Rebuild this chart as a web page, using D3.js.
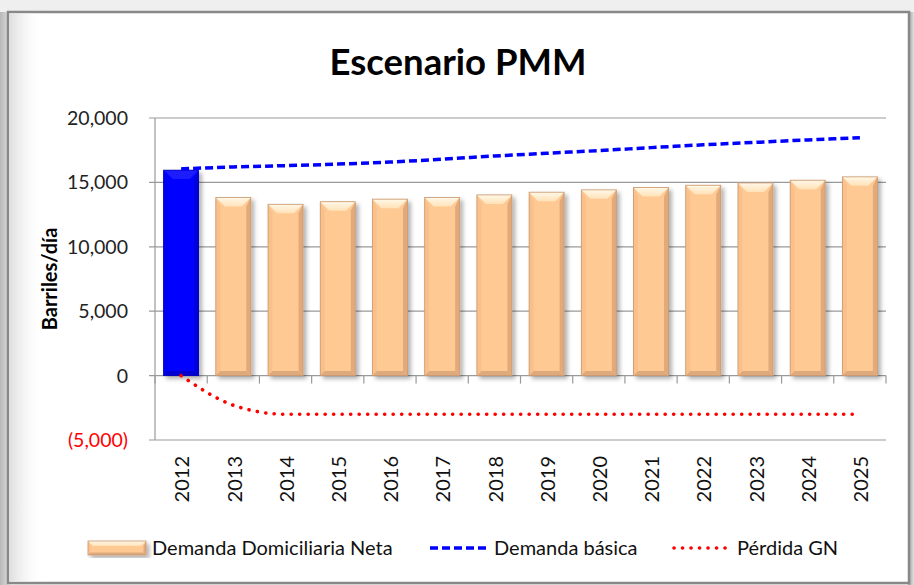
<!DOCTYPE html>
<html>
<head>
<meta charset="utf-8">
<script src="https://cdn.jsdelivr.net/npm/d3@7"></script>
<style>
  body { margin: 0; background: #f2f2f2; }
  svg { display: block; }
  text { font-family: Lato, "Open Sans", sans-serif; }
</style>
</head>
<body>
<svg id="chart" width="914" height="585"></svg>
<script>
// data
const years = ["2012", "2013", "2014", "2015", "2016", "2017", "2018",
               "2019", "2020", "2021", "2022", "2023", "2024", "2025"];
const demandaNeta = [15950, 13820, 13300, 13500, 13700, 13820, 14030,
                     14240, 14420, 14600, 14780, 14960, 15170, 15430];
const demandaBasica = [16050, 16200, 16300, 16420, 16580, 16800, 17050,
                       17260, 17470, 17700, 17920, 18110, 18300, 18470];
const perdidaGN = [0, -2300, -3000, -3000, -3000, -3000, -3000,
                   -3000, -3000, -3000, -3000, -3000, -3000, -3000];
const yTicks = [-5000, 0, 5000, 10000, 15000, 20000];
const legendLabels = ["Demanda Domiciliaria Neta", "Demanda básica", "Pérdida GN"];

const svg = d3.select("#chart");
const W = 914, H = 585;
const plot = { left: 155, right: 886, top: 118, bottom: 440 };

const defs = svg.append("defs");

// background glow and frame
const bgGrad = defs.append("linearGradient").attr("id", "bgLeft")
  .attr("x1", 0).attr("x2", 1).attr("y1", 0).attr("y2", 0);
bgGrad.append("stop").attr("offset", 0).attr("stop-color", "#b8b8b8");
bgGrad.append("stop").attr("offset", 1).attr("stop-color", "#dcdcdc");

const innerGrad = defs.append("linearGradient").attr("id", "innerLeft")
  .attr("x1", 0).attr("x2", 1).attr("y1", 0).attr("y2", 0);
innerGrad.append("stop").attr("offset", 0).attr("stop-color", "#dedede");
innerGrad.append("stop").attr("offset", 1).attr("stop-color", "#ffffff").attr("stop-opacity", 0);

const rightGrad = defs.append("linearGradient").attr("id", "bgRight")
  .attr("x1", 0).attr("x2", 1).attr("y1", 0).attr("y2", 0);
rightGrad.append("stop").attr("offset", 0).attr("stop-color", "#9a9a9a");
rightGrad.append("stop").attr("offset", 1).attr("stop-color", "#e0e0e0");

// light top bevel of the bars
const topGrad = defs.append("linearGradient").attr("id", "topBevel")
  .attr("x1", 0).attr("x2", 0).attr("y1", 0).attr("y2", 1);
topGrad.append("stop").attr("offset", 0).attr("stop-color", "#fff8e8");
topGrad.append("stop").attr("offset", 1).attr("stop-color", "#ffe2b8");

const shadow = defs.append("filter").attr("id", "barShadow")
  .attr("x", "-20%").attr("y", "-10%").attr("width", "150%").attr("height", "130%");
shadow.append("feDropShadow").attr("dx", 3).attr("dy", 3)
  .attr("stdDeviation", 2).attr("flood-color", "#000").attr("flood-opacity", 0.3);

svg.append("rect").attr("width", W).attr("height", H).attr("fill", "#efefef");
svg.append("rect").attr("x", 0).attr("y", 12).attr("width", 9).attr("height", H - 12)
  .attr("fill", "url(#bgLeft)");
svg.append("rect").attr("x", 908).attr("y", 12).attr("width", 6).attr("height", H - 12)
  .attr("fill", "url(#bgRight)");
svg.append("rect").attr("x", 8).attr("y", 12).attr("width", 901).attr("height", 571)
  .attr("fill", "#fff").attr("stroke", "#888").attr("stroke-width", 2.5);
svg.append("rect").attr("x", 9.5).attr("y", 13.5).attr("width", 34).attr("height", 568)
  .attr("fill", "url(#innerLeft)");

// scales
const x = d3.scaleBand().domain(years).range([plot.left, plot.right])
  .paddingInner(0.33).paddingOuter(0.165);
const y = d3.scaleLinear().domain([-5000, 20000]).range([plot.bottom, plot.top]);

// gridlines
svg.append("g").selectAll("line").data(yTicks).join("line")
  .attr("x1", plot.left - 6).attr("x2", plot.right)
  .attr("y1", d => y(d)).attr("y2", d => y(d))
  .attr("stroke", "#9a9a9a").attr("stroke-width", 1.2);

// y axis line
svg.append("line").attr("x1", plot.left).attr("x2", plot.left)
  .attr("y1", plot.top).attr("y2", plot.bottom)
  .attr("stroke", "#9a9a9a").attr("stroke-width", 1.2);

// category ticks on the zero line
const tickPos = d3.range(years.length + 1).map(i => plot.left + i * (plot.right - plot.left) / years.length);
svg.append("g").selectAll("line").data(tickPos).join("line")
  .attr("x1", d => d).attr("x2", d => d)
  .attr("y1", y(0)).attr("y2", y(0) + 8)
  .attr("stroke", "#9a9a9a").attr("stroke-width", 1.2);

// y tick labels
const fmt = d3.format(",");
svg.append("g").selectAll("text").data(yTicks).join("text")
  .attr("x", 128).attr("y", d => y(d)).attr("dy", "0.36em")
  .attr("text-anchor", "end").attr("font-size", 19.5)
  .attr("fill", d => d < 0 ? "#ff0000" : "#222")
  .text(d => d < 0 ? "(" + fmt(-d) + ")" : fmt(d));

// x labels (rotated)
svg.append("g").selectAll("text").data(years).join("text")
  .attr("transform", d => `translate(${x(d) + x.bandwidth() / 2 + 1},456) rotate(-90)`)
  .attr("dy", "0.36em").attr("text-anchor", "end")
  .attr("font-size", 20).attr("fill", "#111")
  .text(d => d);

// bevelled bar
function bevelBar(g, x0, y0, w, h, pal, b) {
  b = Math.min(b, h / 2);
  g.append("rect").attr("x", x0).attr("y", y0).attr("width", w).attr("height", h)
    .attr("fill", pal.main);
  g.append("path").attr("d", `M${x0},${y0}l${b * 0.5},${b}v${h - 1.5 * b}l${-b * 0.5},${b * 0.5}z`).attr("fill", pal.left);
  g.append("path").attr("d", `M${x0 + w},${y0}l${-b * 0.5},${b}v${h - 1.5 * b}l${b * 0.5},${b * 0.5}z`).attr("fill", pal.right);
  g.append("path").attr("d", `M${x0},${y0 + h}h${w}l${-b * 0.5},${-b * 0.5}h${-(w - b)}z`).attr("fill", pal.bottom);
  g.append("path").attr("d", `M${x0},${y0}h${w}l${-b},${b}h${-(w - 2 * b)}z`).attr("fill", pal.top);
  g.append("rect").attr("x", x0).attr("y", y0).attr("width", w).attr("height", h)
    .attr("fill", "none").attr("stroke", pal.edge).attr("stroke-width", 0.8);
}
const orange = { main: "#ffc994", top: "url(#topBevel)", left: "#f9c08c", right: "#e2aa7a", bottom: "#deaa7c", edge: "#c7976e" };
const blue = { main: "#0000ff", top: "#1a1aff", left: "#0000f4", right: "#0000dd", bottom: "#0000d0", edge: "#0000b8" };

const bars = svg.append("g").attr("filter", "url(#barShadow)");
years.forEach((yr, i) => {
  const g = bars.append("g");
  bevelBar(g, x(yr), y(demandaNeta[i]), x.bandwidth(), y(0) - y(demandaNeta[i]), i === 0 ? blue : orange, 9);
});

// lines
const cx = d => x(d) + x.bandwidth() / 2;
const line = d3.line().x((d, i) => cx(years[i])).y(d => y(d)).curve(d3.curveMonotoneX);
svg.append("path").datum(demandaBasica).attr("d", line)
  .attr("fill", "none").attr("stroke", "#0000ff").attr("stroke-width", 3.5)
  .attr("stroke-dasharray", "8,4");
svg.append("path").datum(perdidaGN).attr("d", line)
  .attr("fill", "none").attr("stroke", "#ff0000").attr("stroke-width", 3.6)
  .attr("stroke-linecap", "round").attr("stroke-dasharray", "0.1,8.4");

// title and axis label
svg.append("text").attr("x", 458).attr("y", 75).attr("text-anchor", "middle")
  .attr("font-size", 36.5).attr("font-weight", "bold").attr("fill", "#000")
  .text("Escenario PMM");
svg.append("text").attr("transform", "translate(50,279) rotate(-90)")
  .attr("dy", "0.36em").attr("text-anchor", "middle")
  .attr("font-size", 20).attr("font-weight", "bold").attr("fill", "#000")
  .text("Barriles/día");

// legend
const ly = 548;
const leg = svg.append("g");
const lg0 = leg.append("g").attr("filter", "url(#barShadow)");
bevelBar(lg0, 88, ly - 7, 58, 14, orange, 5);
leg.append("line").attr("x1", 430).attr("x2", 488).attr("y1", ly).attr("y2", ly)
  .attr("stroke", "#0000ff").attr("stroke-width", 3.5).attr("stroke-dasharray", "8,4");
leg.append("line").attr("x1", 674).attr("x2", 728).attr("y1", ly).attr("y2", ly)
  .attr("stroke", "#ff0000").attr("stroke-width", 3.6)
  .attr("stroke-linecap", "round").attr("stroke-dasharray", "0.1,8.4");
const legX = [152, 494, 737];
leg.selectAll("text").data(legendLabels).join("text")
  .attr("x", (d, i) => legX[i]).attr("y", ly).attr("dy", "0.36em")
  .attr("font-size", 20).attr("fill", "#111")
  .text(d => d);
</script>
</body>
</html>
